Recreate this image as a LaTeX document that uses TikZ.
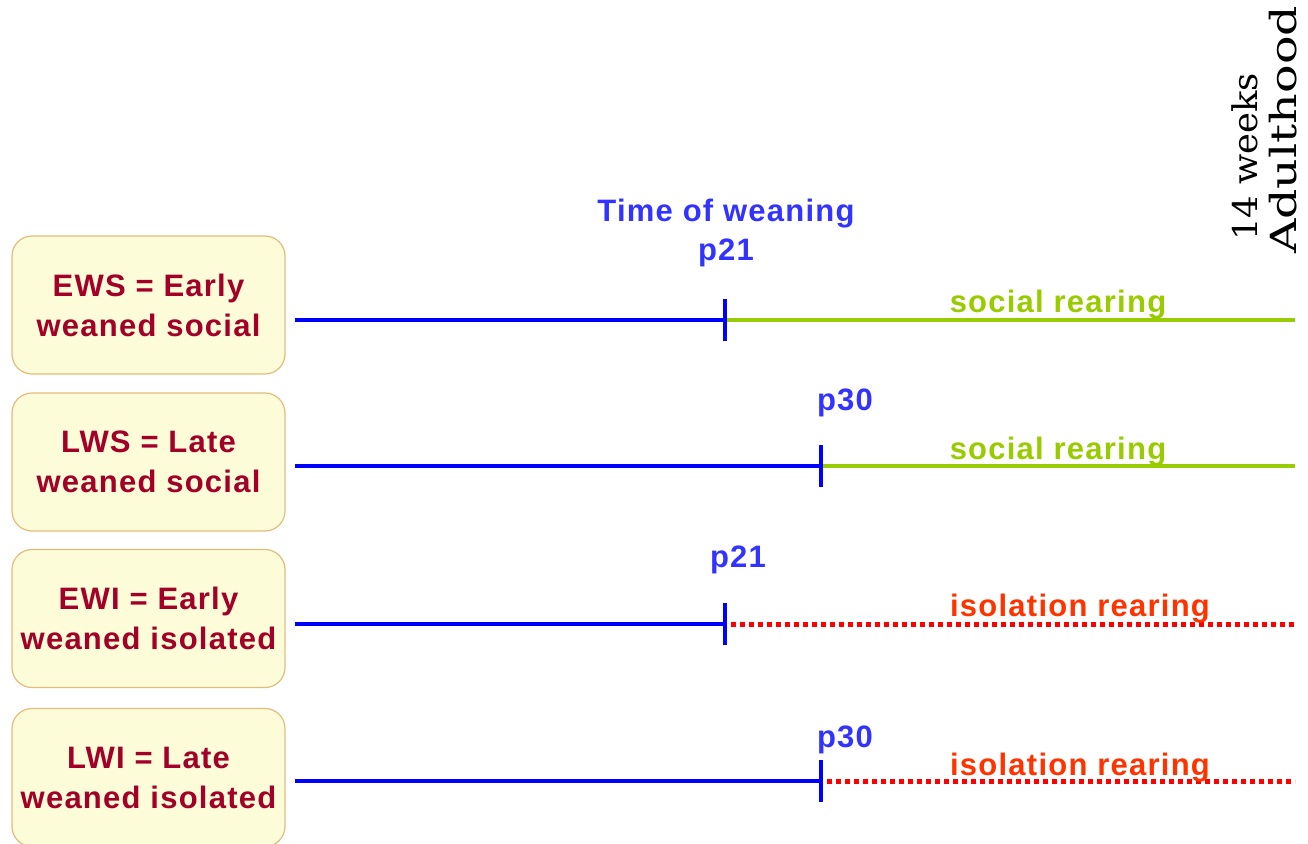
\documentclass[tikz,border=0pt]{standalone}
\usepackage{fontspec}
\setmainfont{Liberation Sans}
\newfontfamily\lblfont[LetterSpace=4]{Liberation Sans}
\newfontfamily\serx{DejaVu Serif}
\definecolor{boxfill}{RGB}{252,252,217}
\definecolor{boxedge}{RGB}{226,188,125}
\definecolor{boxtext}{RGB}{163,0,40}
\definecolor{lblblue}{RGB}{51,51,255}
\definecolor{lineblue}{RGB}{0,0,255}
\definecolor{socgreen}{RGB}{153,204,0}
\definecolor{isored}{RGB}{255,0,0}
\definecolor{isotext}{RGB}{255,51,0}
\tikzset{
  groupbox/.style={draw=boxedge, line width=1.2pt, fill=boxfill, rounded corners=20pt,
    minimum width=273pt, minimum height=138pt, align=center, text=boxtext,
    font=\lblfont\bfseries\fontsize{31}{40}\selectfont, inner sep=0pt},
  lbl/.style={font=\lblfont\bfseries\fontsize{31}{33}\selectfont, anchor=base, inner sep=0pt},
  pre/.style={draw=lineblue, line width=4pt},
  tick/.style={draw=lineblue, line width=4pt},
  social/.style={draw=socgreen, line width=4pt},
  isol/.style={draw=isored, line width=5pt, dash pattern=on 5pt off 4pt},
}
\begin{document}
\begin{tikzpicture}[x=1pt,y=-1pt]
\useasboundingbox (0,0) rectangle (1308,843);
% boxes
\node[groupbox] (b1) at (148.5,305) {EWS = Early\\weaned social};
\node[groupbox] (b2) at (148.5,462) {LWS = Late\\weaned social};
\node[groupbox] (b3) at (148.5,618.5) {EWI = Early\\weaned isolated};
\node[groupbox] (b4) at (148.5,777.5) {LWI = Late\\weaned isolated};
% timeline points
\coordinate (s1) at (295,320); \coordinate (t1) at (725,320); \coordinate (e1) at (1295,320);
\coordinate (s2) at (295,466); \coordinate (t2) at (821,466); \coordinate (e2) at (1295,466);
\coordinate (s3) at (295,624); \coordinate (t3) at (725,624); \coordinate (e3) at (1295,624);
\coordinate (s4) at (295,781); \coordinate (t4) at (821,781); \coordinate (e4) at (1295,781);
% row 1
\draw[social] (t1) -- (e1);
\draw[pre] (s1) -- (t1);
\draw[tick] ([yshift=-21pt]t1) -- ([yshift=21pt]t1);
% row 2
\draw[social] (t2) -- (e2);
\draw[pre] (s2) -- (t2);
\draw[tick] ([yshift=-21pt]t2) -- ([yshift=21pt]t2);
% row 3
\draw[isol] ([xshift=6pt]t3) -- (e3);
\draw[pre] (s3) -- (t3);
\draw[tick] ([yshift=-21pt]t3) -- ([yshift=21pt]t3);
% row 4
\draw[isol] ([xshift=6pt]t4) -- (e4);
\draw[pre] (s4) -- (t4);
\draw[tick] ([yshift=-21pt]t4) -- ([yshift=21pt]t4);
% labels
\node[lbl, text=lblblue] (tw) at (726,221) {Time of weaning};
\node[lbl, text=lblblue] (p1) at (726,260) {p21};
\node[lbl, text=lblblue] (p2) at (845,410) {p30};
\node[lbl, text=lblblue] (p3) at (738,567) {p21};
\node[lbl, text=lblblue] (p4) at (845,747) {p30};
\node[lbl, text=socgreen] (r1) at (1058,312) {social rearing};
\node[lbl, text=socgreen] (r2) at (1058,459) {social rearing};
\node[lbl, text=isotext] (r3) at (1080,616) {isolation rearing};
\node[lbl, text=isotext] (r4) at (1080,775) {isolation rearing};
% rotated
\node[rotate=90, anchor=base west, inner sep=0pt, font=\serx\fontsize{34}{34}\selectfont] (wk) at (1257,241) {\scalebox{1.04}[1]{14 weeks}};
\node[rotate=90, anchor=base west, inner sep=0pt, font=\serx\fontsize{36}{36}\selectfont] (ad) at (1296,254) {\scalebox{1.32}[1]{Adulthood}};
\end{tikzpicture}
\end{document}
